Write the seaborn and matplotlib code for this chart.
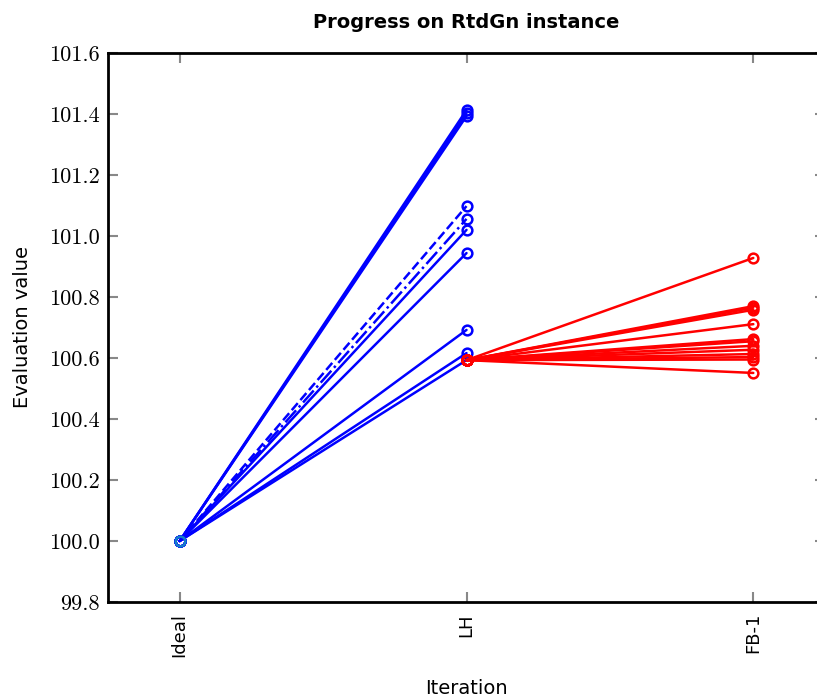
import matplotlib
matplotlib.use("Agg")
import matplotlib.pyplot as plt
import seaborn as sns
import pandas as pd

categories = ["Ideal", "LH", "FB-1"]
ideal_value = 100.0
blue_lh = [101.413, 101.403, 101.393, 101.098, 101.056, 101.020, 100.944, 100.692, 100.616, 100.593]
blue_styles = ['-', '-', '-', '--', '-.', '-', '-', '-', '-', '-']
lh_start = 100.593
red_fb = [100.928, 100.770, 100.765, 100.758, 100.711, 100.662, 100.655, 100.640,
          100.627, 100.613, 100.603, 100.595, 100.551]
yticks = [99.8, 100.0, 100.2, 100.4, 100.6, 100.8, 101.0, 101.2, 101.4, 101.6]

sns.set_style("white")
plt.rcParams['text.color'] = 'black'
plt.rcParams['axes.labelcolor'] = 'black'
plt.rcParams['xtick.labelcolor'] = 'black'
plt.rcParams['ytick.labelcolor'] = 'black'
fig = plt.figure(figsize=(8.17, 6.99), dpi=100)
ax = fig.add_axes([108/817, 1 - 602/699, (825-108)/817, (602-53)/699])

BLUE = "#0000ff"
RED = "#ff0000"
mk = dict(marker='o', markersize=7, markerfacecolor='none', markeredgewidth=1.8)

for v, ls in zip(blue_lh, blue_styles):
    df = pd.DataFrame({"x": [0, 1], "y": [ideal_value, v]})
    sns.lineplot(data=df, x="x", y="y", ax=ax, color=BLUE, linewidth=1.8,
                 linestyle=ls, markeredgecolor=BLUE, estimator=None, **mk)
for v in red_fb:
    df = pd.DataFrame({"x": [1, 2], "y": [lh_start, v]})
    sns.lineplot(data=df, x="x", y="y", ax=ax, color=RED, linewidth=1.8,
                 markeredgecolor=RED, estimator=None, **mk)
ax.plot([1], [lh_start], linestyle='none', color=BLUE, markeredgecolor=BLUE, **mk, zorder=1)
ax.plot([0], [ideal_value], linestyle='none', markeredgecolor="#1580c8", **mk, zorder=5)

ax.set_xlim(-0.25, 2.25)
ax.set_ylim(99.8, 101.6)
ax.set_xticks(range(len(categories)))
ax.set_xticklabels(categories, rotation=90, fontsize=13, family="DejaVu Sans")
ax.set_yticks(yticks)
ax.set_yticklabels([f"{t:.1f}" for t in yticks], fontsize=16, family="cmr10")
ax.tick_params(axis='both', direction='in', length=7, width=1.5, color='#888888',
               top=True, right=True, bottom=True, left=True, pad=6)
ax.tick_params(axis='x', pad=8)
for s in ax.spines.values():
    s.set_linewidth(2)
    s.set_color('black')

ax.set_xlabel("Iteration", fontsize=14, family="DejaVu Sans", labelpad=16)
ax.set_ylabel("Evaluation value", fontsize=14, family="DejaVu Sans", labelpad=12)
ax.set_title("Progress on RtdGn instance", fontsize=14, fontweight='bold',
             family="DejaVu Sans", pad=18)

fig.savefig("out.png", dpi=100)
